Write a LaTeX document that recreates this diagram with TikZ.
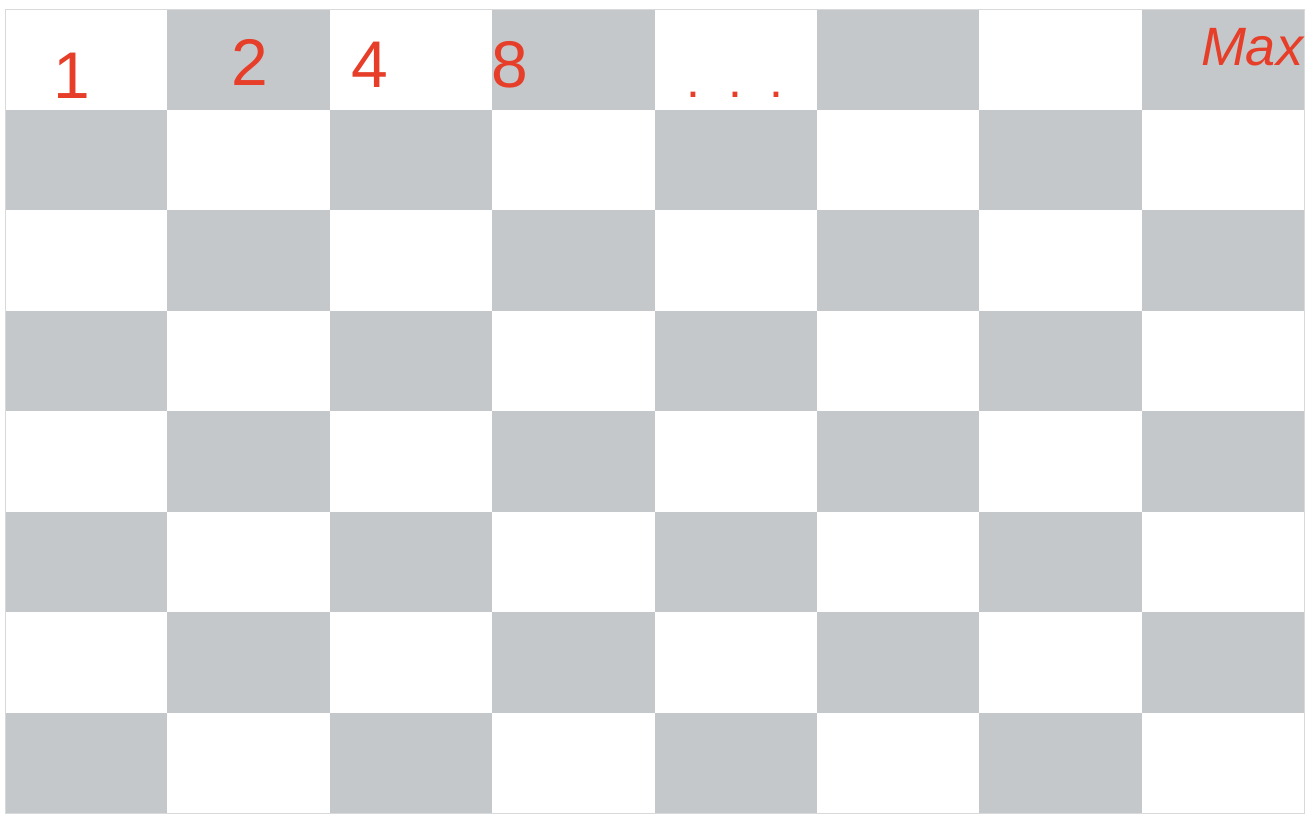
\documentclass[tikz,border=0pt]{standalone}
\usepackage{fontspec}
\setmainfont{Liberation Sans}
\definecolor{sq}{RGB}{196,200,203}
\definecolor{ink}{RGB}{230,62,40}
\definecolor{edge}{RGB}{215,217,219}
\begin{document}
\begin{tikzpicture}[x=1pt,y=-1pt,
  lab/.style={text=ink, inner sep=0pt, anchor=base, font=\fontsize{66}{66}\selectfont},
  cell/.style={fill=sq}]
\useasboundingbox (0,0) rectangle (1306,816);
\fill[white] (0,0) rectangle (1306,816);
\foreach \i in {0,...,7}{
  \foreach \j in {0,...,7}{
    \pgfmathtruncatemacro\p{mod(\i+\j,2)}
    \ifnum\p=1
      \fill[cell] ({5+162.4*\i},{9+100.5*\j}) rectangle ({5+162.4*(\i+1)},{9+100.5*(\j+1)});
    \fi
  }
}
\draw[edge, line width=0.6pt] (5,9) rectangle (1304,813);
\node[lab] (l1) at (72,98) {1};
\node[lab] (l2) at (250,85) {2};
\node[lab] (l4) at (370,88) {4};
\node[lab] (l8) at (510,87) {8};
\node[lab, font=\fontsize{50}{50}\selectfont] (ldots) at (735,97) {.\ \ .\ \ .};
\node[lab, font=\itshape\fontsize{54}{54}\selectfont] (lmax) at (1252,66) {Max};
\end{tikzpicture}
\end{document}
